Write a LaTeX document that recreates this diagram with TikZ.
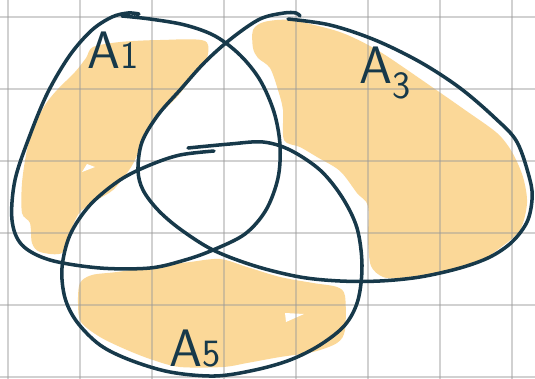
\documentclass[tikz,border=0pt]{standalone}
\usepackage{xcolor}
\usepackage{tikz}
\definecolor{inkteal}{HTML}{17394A}
\definecolor{marker}{HTML}{FBD898}
\definecolor{gridgray}{HTML}{9A9A9A}

\begin{document}
\begin{tikzpicture}[x=0.02cm, y=-0.02cm,
    setline/.style={draw=inkteal, line width=2pt, line cap=round, line join=round},
    blob/.style={fill=marker},
    notch/.style={fill=white},
    gridline/.style={draw=gridgray, line width=1.1pt, opacity=0.45},
    setlabel/.style={text=inkteal, font=\sffamily\fontsize{30}{30}\selectfont, inner sep=0pt}]
    \useasboundingbox (0,0) rectangle (535,379);
    \fill[white] (0,0) rectangle (535,379);

    % Shaded regions
    \fill[blob] plot[smooth cycle, tension=0.5] coordinates {(93,47) (120,42) (160,40) (205,41) (206,62) (195,74) (177,97) (157,117) (143,140) (135,160) (127,173) (113,190) (97,200) (80,212) (70,232) (62,253) (40,252) (32,243) (30,223) (22,213) (22,183) (27,150) (35,125) (45,105) (57,90) (75,72) (86,58)};
    \fill[blob] plot[smooth cycle, tension=0.5] coordinates {(253,30) (264,22) (290,20) (330,29) (352,37) (382,53) (432,87) (465,110) (497,133) (512,152) (523,177) (527,203) (520,230) (500,248) (478,262) (440,272) (400,278) (383,277) (371,266) (368,240) (368,206) (357,193) (340,171) (317,157) (300,147) (284,140) (283,110) (278,90) (270,68) (258,58) (253,48)};
    \fill[blob] plot[smooth cycle, tension=0.5] coordinates {(80,283) (92,275) (117,272) (160,266) (190,262) (220,259) (247,267) (280,277) (313,283) (337,287) (345,296) (345,330) (337,343) (313,352) (280,357) (247,363) (223,367) (180,367) (153,360) (127,350) (100,337) (81,322) (78,303)};
    \fill[notch] (82,172) -- (95,167) -- (87,164) -- cycle;
    \fill[notch] (285,313) -- (304,314) -- (286,322) -- cycle;

    % Grid
    \foreach \gx in {8,80,...,512}
        \draw[gridline] (\gx,0) -- (\gx,379);
    \foreach \gy in {17,89,...,377}
        \draw[gridline] (0,\gy) -- (535,\gy);

    % Set outlines
    \draw[setline] plot[smooth, tension=0.55] coordinates {(122,16) (150,19) (185,25) (215,36) (240,55) (260,80) (274,112) (280,145) (278,178) (266,210) (245,234) (213,250) (185,260) (150,268) (100,268) (50,260) (22,245) (12,220) (15,180) (30,135) (48,92) (70,55) (92,30) (112,17) (128,13) (139,14)};
    \draw[setline] plot[smooth, tension=0.55] coordinates {(288,19) (330,25) (375,40) (420,62) (460,88) (495,118) (517,142) (530,180) (532,200) (527,222) (512,242) (490,257) (460,268) (420,277) (380,281) (340,281) (300,277) (255,266) (213,250) (180,229) (158,210) (143,190) (138,170) (142,142) (158,115) (180,90) (205,62) (232,38) (260,19) (284,13) (296,13) (300,16)};
    \draw[setline] plot[smooth, tension=0.55] coordinates {(188,148) (230,144) (263,142) (290,150) (320,170) (342,197) (357,228) (362,265) (358,300) (345,325) (320,345) (290,360) (255,370) (215,376) (170,372) (130,360) (100,345) (77,322) (65,298) (62,268) (70,235) (90,205) (120,180) (150,165) (180,155) (214,151)};

    % Text
    \node[setlabel] (lblA1) at (113,50) {A{\fontsize{22}{22}\selectfont 1}};
    \node[setlabel] (lblA3) at (385,73) {A\raisebox{-0.3em}{\fontsize{22}{22}\selectfont 3}};
    \node[setlabel] (lblA5) at (195,349) {A{\fontsize{22}{22}\selectfont 5}};
\end{tikzpicture}
\end{document}
